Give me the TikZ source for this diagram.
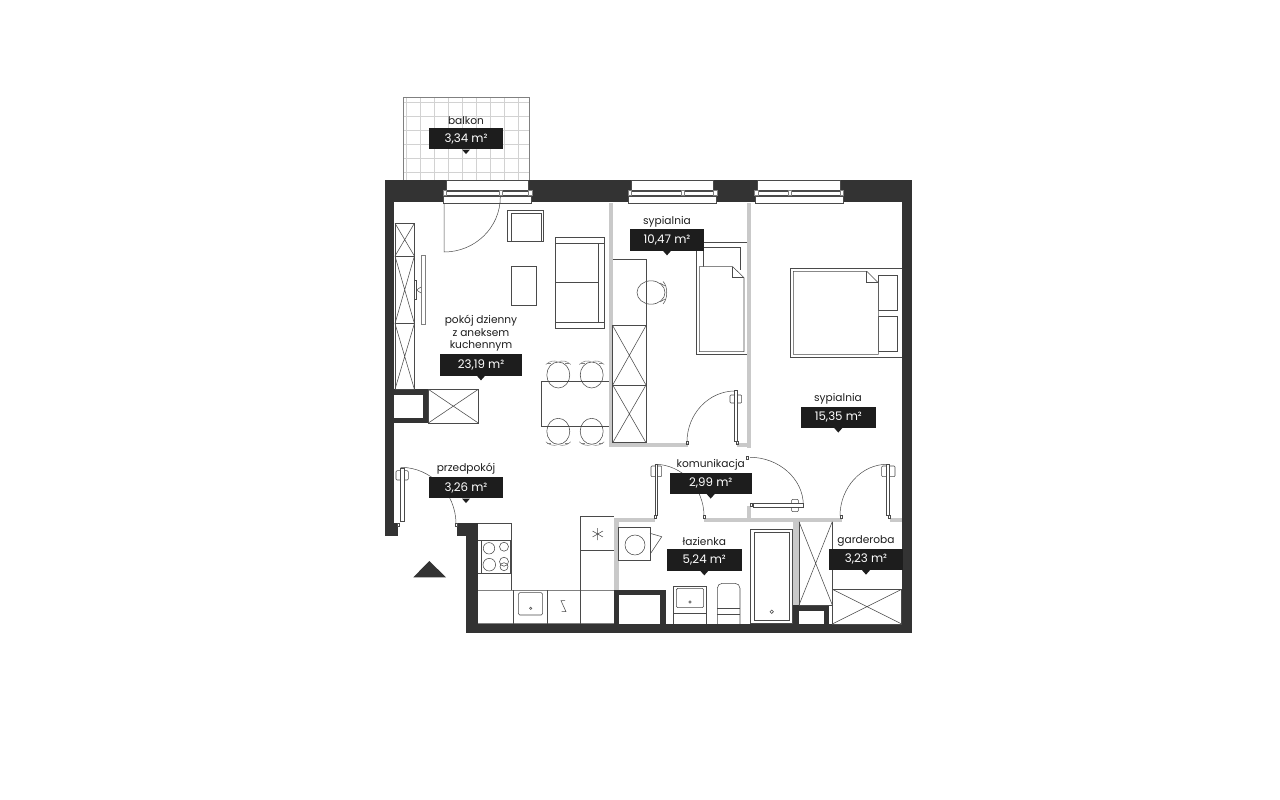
\documentclass[tikz,border=0pt]{standalone}
\usepackage{fontspec}
\setmainfont{Poppins}
\definecolor{wallcol}{HTML}{333333}
\definecolor{partcol}{HTML}{C9C9C9}
\definecolor{linecol}{HTML}{4A4A4A}
\definecolor{gridcol}{HTML}{D2D2D2}
\definecolor{tagcol}{HTML}{1D1D1D}
\tikzset{
	wall/.style={fill=wallcol,draw=none},
	partition/.style={fill=partcol,draw=none},
	void/.style={fill=white,draw=none},
	furn/.style={draw=linecol,line width=.55pt},
	pane/.style={draw=linecol,fill=white,line width=.55pt},
	swing/.style={draw=linecol,line width=.5pt},
	areatag/.style={fill=tagcol,text=white,font=\fontsize{11.8}{13}\selectfont,inner sep=0pt,minimum width=74.7pt,minimum height=21.3pt},
	roomname/.style={text=tagcol,font=\fontsize{10.6}{12}\selectfont,inner sep=0pt}
}

\begin{document}
\begin{tikzpicture}[x=1pt,y=-1pt]
	\useasboundingbox (0,0) rectangle (1280,800);

	\foreach \x in {406.7,420.7,...,519} \draw[gridcol,line width=.7pt] (\x,97) -- (\x,180);
	\foreach \y in {102.7,116.7,...,173} \draw[gridcol,line width=.7pt] (403,\y) -- (529,\y);
	\draw[draw=gray,line width=.6pt] (403,180) -- (403,97) -- (529,97) -- (529,180);

	\path[wall] (385,180) rectangle (912,202);
	\path[wall] (385,180) rectangle (394,536);
	\path[wall] (394,523) rectangle (397.5,536);
	\path[wall] (902,180) rectangle (912,633);
	\path[wall] (466,624) rectangle (912,633);
	\path[wall] (466,523) rectangle (478,633);
	\path[wall] (457,523) rectangle (478,536);
	\path[wall] (394,389.3) rectangle (428.3,423);
	\path[void] (394,395) rectangle (423,417.7);

	\foreach \x/\m in {443.5/56.5,628.5/53.5,755/34} {
		\draw[pane] ({\x+2.5},180) rectangle ({\x+85},190);
		\draw[pane] (\x,196) rectangle ({\x+88},203);
		\draw[pane] ({\x+1},191) rectangle ({\x+\m},195);
		\draw[pane] ({\x+\m+1},191) rectangle ({\x+87},195);
		\draw[pane,draw=gray] ({\x-.5},190.5) rectangle ({\x+3},195.5);
		\draw[pane,draw=gray] ({\x+\m-1},190.5) rectangle ({\x+\m+2},195.5);
		\draw[pane,draw=gray] ({\x+85},190.5) rectangle ({\x+88.5},195.5);
	}

	\path[partition] (608.5,203) rectangle (612.5,446.7);
	\path[partition] (608.5,443) rectangle (688,446.7);
	\path[partition] (737,443) rectangle (751,446.7);
	\path[partition] (747,203) rectangle (751,448);
	\path[partition] (747,506) rectangle (751,521.5);
	\path[partition] (704.3,517.5) rectangle (841.7,521.5);
	\path[partition] (890,517.5) rectangle (902,521.5);
	\path[partition] (614,517.5) rectangle (655,521.5);
	\path[partition] (614.3,517.5) rectangle (619,590);
	\path[partition] (793.3,520) rectangle (798.7,605);

	\path[wall] (614.3,589.5) rectangle (666,624);
	\path[void] (618.7,595) rectangle (660,624);
	\path[wall] (793.3,605) rectangle (829.3,624);
	\path[void] (799,610.7) rectangle (824,624);

	% left wardrobe and panel
	\foreach \t/\b in {223.3/256,256/323.5,323.5/389.3} {
		\draw[furn] (395,\t) rectangle (414.4,\b);
		\draw[furn] (395,\t) -- (414.4,\b) (414.4,\t) -- (395,\b);
	}
	\draw[furn,draw=gray] (421,255) rectangle (425,324.3);
	\draw[furn] (414.4,280) rectangle (416.5,299);
	\draw[swing] (421,287) -- (416.5,290) -- (421,293);
	\draw[furn] (428.3,389.3) rectangle (478.3,423);
	\draw[furn] (428.3,389.3) -- (478.3,423) (478.3,389.3) -- (428.3,423);

	% living room
	\draw[furn] (507.3,210) rectangle (543.7,241.7);
	\draw[furn] (511,213.3) rectangle (541,241.7);
	\draw[furn] (511.3,266) rectangle (536.7,305);
	\draw[furn] (555.7,237.3) rectangle (604.3,328);
	\draw[furn] (555.7,243.3) -- (604.3,243.3) (555.7,322.3) -- (604.3,322.3) (555.7,282.7) -- (598.3,282.7) (598.3,243.3) -- (598.3,322.3);
	\draw[furn] (608.5,381.3) -- (541.7,381.3) -- (541.7,426) -- (608.5,426);
	\foreach \cx/\cy/\s in {558.3/375/1,591.7/375/1,558.3/431.3/-1,591.7/431.3/-1} {
		\draw[furn] (\cx,\cy) ellipse (11.5 and 13);
		\draw[swing,draw=gray] ({\cx-12.5},{\cy-\s*10.5}) .. controls ({\cx-8},{\cy-\s*14.5}) and ({\cx-4},{\cy-\s*14.5}) .. ({\cx-1},{\cy-\s*13.5});
		\draw[swing,draw=gray] ({\cx+12.5},{\cy-\s*10.5}) .. controls ({\cx+8},{\cy-\s*14.5}) and ({\cx+4},{\cy-\s*14.5}) .. ({\cx+1},{\cy-\s*13.5});
		\draw[swing,draw=gray] ({\cx-11},{\cy-\s*12}) -- ({\cx-7},{\cy-\s*12});
		\draw[swing,draw=gray] ({\cx+11},{\cy-\s*12}) -- ({\cx+7},{\cy-\s*12});
	}

	% small bedroom
	\draw[furn] (612.5,259) -- (646,259) -- (646,325.7);
	\draw[furn] (651,292.5) ellipse (14 and 11.7);
	\draw[swing] (663,281.5) .. controls (668,286) and (668,299) .. (663,304);
	\draw[swing] (660,283) -- (665,286) (660,302) -- (665,299);
	\foreach \t/\b in {325.7/385,385/442.7} {
		\draw[furn] (612.7,\t) rectangle (646,\b);
		\draw[furn] (612.7,\t) -- (646,\b) (646,\t) -- (612.7,\b);
	}
	\draw[furn] (747,242.7) -- (696.7,242.7) -- (696.7,354.3) -- (747,354.3);
	\draw[furn] (703.3,266.7) -- (703.3,247.3) -- (740,247.3) -- (740,270);
	\draw[pane] (699.3,266.7) -- (732.7,266.7) -- (744,277.7) -- (744,351.7) -- (699.3,351.7) -- cycle;
	\draw[furn] (732.7,266.7) -- (732.7,277.7) -- (744,277.7);

	% large bedroom
	\draw[furn] (902,268.3) -- (790,268.3) -- (790,357.7) -- (902,357.7);
	\draw[furn] (878.3,275.7) rectangle (897.7,310.7);
	\draw[furn] (878.3,316) rectangle (897.7,351);
	\draw[pane] (793.3,271.3) -- (866.7,271.3) -- (878.3,282.7) -- (878.3,354.3) -- (793.3,354.3) -- cycle;
	\draw[furn] (866.7,271.3) -- (866.7,282.7) -- (878.3,282.7);

	% doors
	\draw[swing] (444,203) -- (444,252) .. controls (475,252) and (500.3,227.5) .. (500.3,197);
	\draw[swing] (400.7,467.3) .. controls (431,467.3) and (456,493) .. (456,524);
	\draw[furn,rounded corners=1pt] (396,470.7) rectangle (408.3,480);
	\draw[pane] (400,468.3) rectangle (404,521.7);
	\draw[swing] (735,391) .. controls (708.6,391) and (687,414) .. (687,442);
	\draw[furn,rounded corners=1pt] (730,395) rectangle (741.7,403);
	\draw[pane] (734.3,390.7) rectangle (737.7,441.7);
	\draw[swing] (655,464.3) .. controls (682,464.3) and (704,488) .. (704,516);
	\draw[furn,rounded corners=1pt] (651,466) rectangle (661.7,476.7);
	\draw[pane] (655,464.3) rectangle (657.7,515);
	\draw[swing] (750,457.3) .. controls (779,457.3) and (803.3,479) .. (803.3,505);
	\draw[furn,rounded corners=1pt] (791.7,499.3) rectangle (798.3,511.7);
	\draw[pane] (753.3,503) rectangle (803.3,507.3);
	\draw[swing] (887,464.3) .. controls (861,464.3) and (840,488) .. (840,516);
	\draw[furn,rounded corners=1pt] (881.7,466) rectangle (895,476.7);
	\draw[pane] (886.7,464.3) rectangle (889.3,515);
	\foreach \jx/\jy in {398.5/524.5,456/525,687/443,737/443,655.5/517,704.3/517,747.5/458,751.5/505,841/517,889/517}
		\draw[swing] ({\jx-1},{\jy-1.5}) rectangle ({\jx+1},{\jy+1.5});

	% kitchen
	\draw[furn] (478.3,523.3) -- (511.7,523.3) -- (511.7,590);
	\draw[furn] (478.3,540.7) -- (511.7,540.7) (478.3,573.3) -- (511.7,573.3);
	\draw[furn] (481.3,540.7) rectangle (510,573.3);
	\draw[furn] (489,548.3) circle (5.7);
	\draw[furn] (504,546.7) circle (4.5);
	\draw[furn] (489.3,564.7) circle (6.3);
	\draw[furn] (504,566.7) circle (4);
	\draw[furn] (504,561.7) circle (4.5);
	\draw[furn,draw=gray] (478.3,590) -- (614,590);
	\draw[draw=gray,line width=1.2pt] (478.3,623.5) -- (614,623.5);
	\draw[furn] (513.3,590) -- (513.3,624) (547.3,590) -- (547.3,624) (580.3,516.3) -- (580.3,624);
	\draw[furn] (580.3,516.3) -- (614,516.3) (580.3,550) -- (614,550);
	\draw[furn,rounded corners=1.5pt] (518.3,592.7) rectangle (542.7,615);
	\draw[furn] (530.7,608.3) circle (1.2);
	\draw[furn] (565,600.7) -- (561,600.7) -- (566,611.7) -- (561.5,611.7);
	\draw[furn] (597.7,528) -- (597.7,540) (592.5,531) -- (602.9,537) (592.5,537) -- (602.9,531);

	% bathroom
	\draw[furn] (618.7,527.3) rectangle (650,560.3);
	\draw[furn] (635,545) circle (10);
	\draw[furn] (650,533.3) -- (661.7,536.7) -- (650.7,553.3);
	\draw[furn] (673.3,624) -- (673.3,586.7) -- (706.7,586.7) -- (706.7,624);
	\draw[furn] (673.3,613.3) -- (706.7,613.3);
	\draw[furn,rounded corners=1.5pt] (676.3,588.3) rectangle (703.7,607.7);
	\draw[furn] (690,602) circle (1.3);
	\draw[furn,rounded corners=5pt] (717.3,624) -- (717.3,583.3) -- (740,583.3) -- (740,624);
	\draw[furn] (717.3,608.3) -- (740,608.3) (717.3,614) -- (740,614);
	\draw[furn] (750.7,529.3) rectangle (792.7,623.3);
	\draw[furn] (754.7,532.3) rectangle (789.3,620.7);
	\draw[furn] (771.7,611.7) circle (1.7);

	% closets
	\draw[furn] (799,521.7) -- (832.3,605) (832.3,521.7) -- (799,605);
	\draw[furn] (799,521.7) -- (799,605) (832.3,521.7) -- (832.3,605) (799,605) -- (832.3,605);
	\draw[furn] (832.3,589.3) rectangle (901.7,624);
	\draw[furn] (832.3,589.3) -- (901.7,624) (901.7,589.3) -- (832.3,624);

	\path[wall] (429.3,561) -- (446,577.3) -- (413.3,577.3) -- cycle;

	\node[roomname] (n_balkon) at (466,120.8) {balkon};
	\node[areatag] (a_balkon) at (466,138.7) {3,34 m²};
	\node[roomname] (n_sypialnia1) at (667,222) {sypialnia};
	\node[areatag] (a_sypialnia1) at (667,240) {10,47 m²};
	\node[roomname,align=center] (n_pokoj) at (481,333.5) {pokój dzienny\\[.5pt]z aneksem\\[.5pt]kuchennym};
	\node[areatag,minimum width=82.3pt] (a_pokoj) at (481,365) {23,19 m²};
	\node[roomname] (n_sypialnia2) at (838,398.5) {sypialnia};
	\node[areatag] (a_sypialnia2) at (838.3,417.2) {15,35 m²};
	\node[roomname] (n_przedpokoj) at (466,468.5) {przedpokój};
	\node[areatag] (a_przedpokoj) at (466,487.7) {3,26 m²};
	\node[roomname] (n_komunikacja) at (710.7,465) {komunikacja};
	\node[areatag,minimum width=82pt] (a_komunikacja) at (710.7,483.2) {2,99 m²};
	\node[roomname] (n_lazienka) at (704.3,541.5) {łazienka};
	\node[areatag] (a_lazienka) at (704.3,560) {5,24 m²};
	\node[roomname] (n_garderoba) at (866,541) {garderoba};
	\node[areatag] (a_garderoba) at (866,559.3) {3,23 m²};

	\foreach \n in {a_balkon,a_sypialnia1,a_pokoj,a_sypialnia2,a_przedpokoj,a_komunikacja,a_lazienka,a_garderoba}
		\fill[tagcol] (\n.south) ++(-4,0) -- ++(8,0) -- ++(-4,4.5) -- cycle;
\end{tikzpicture}
\end{document}
